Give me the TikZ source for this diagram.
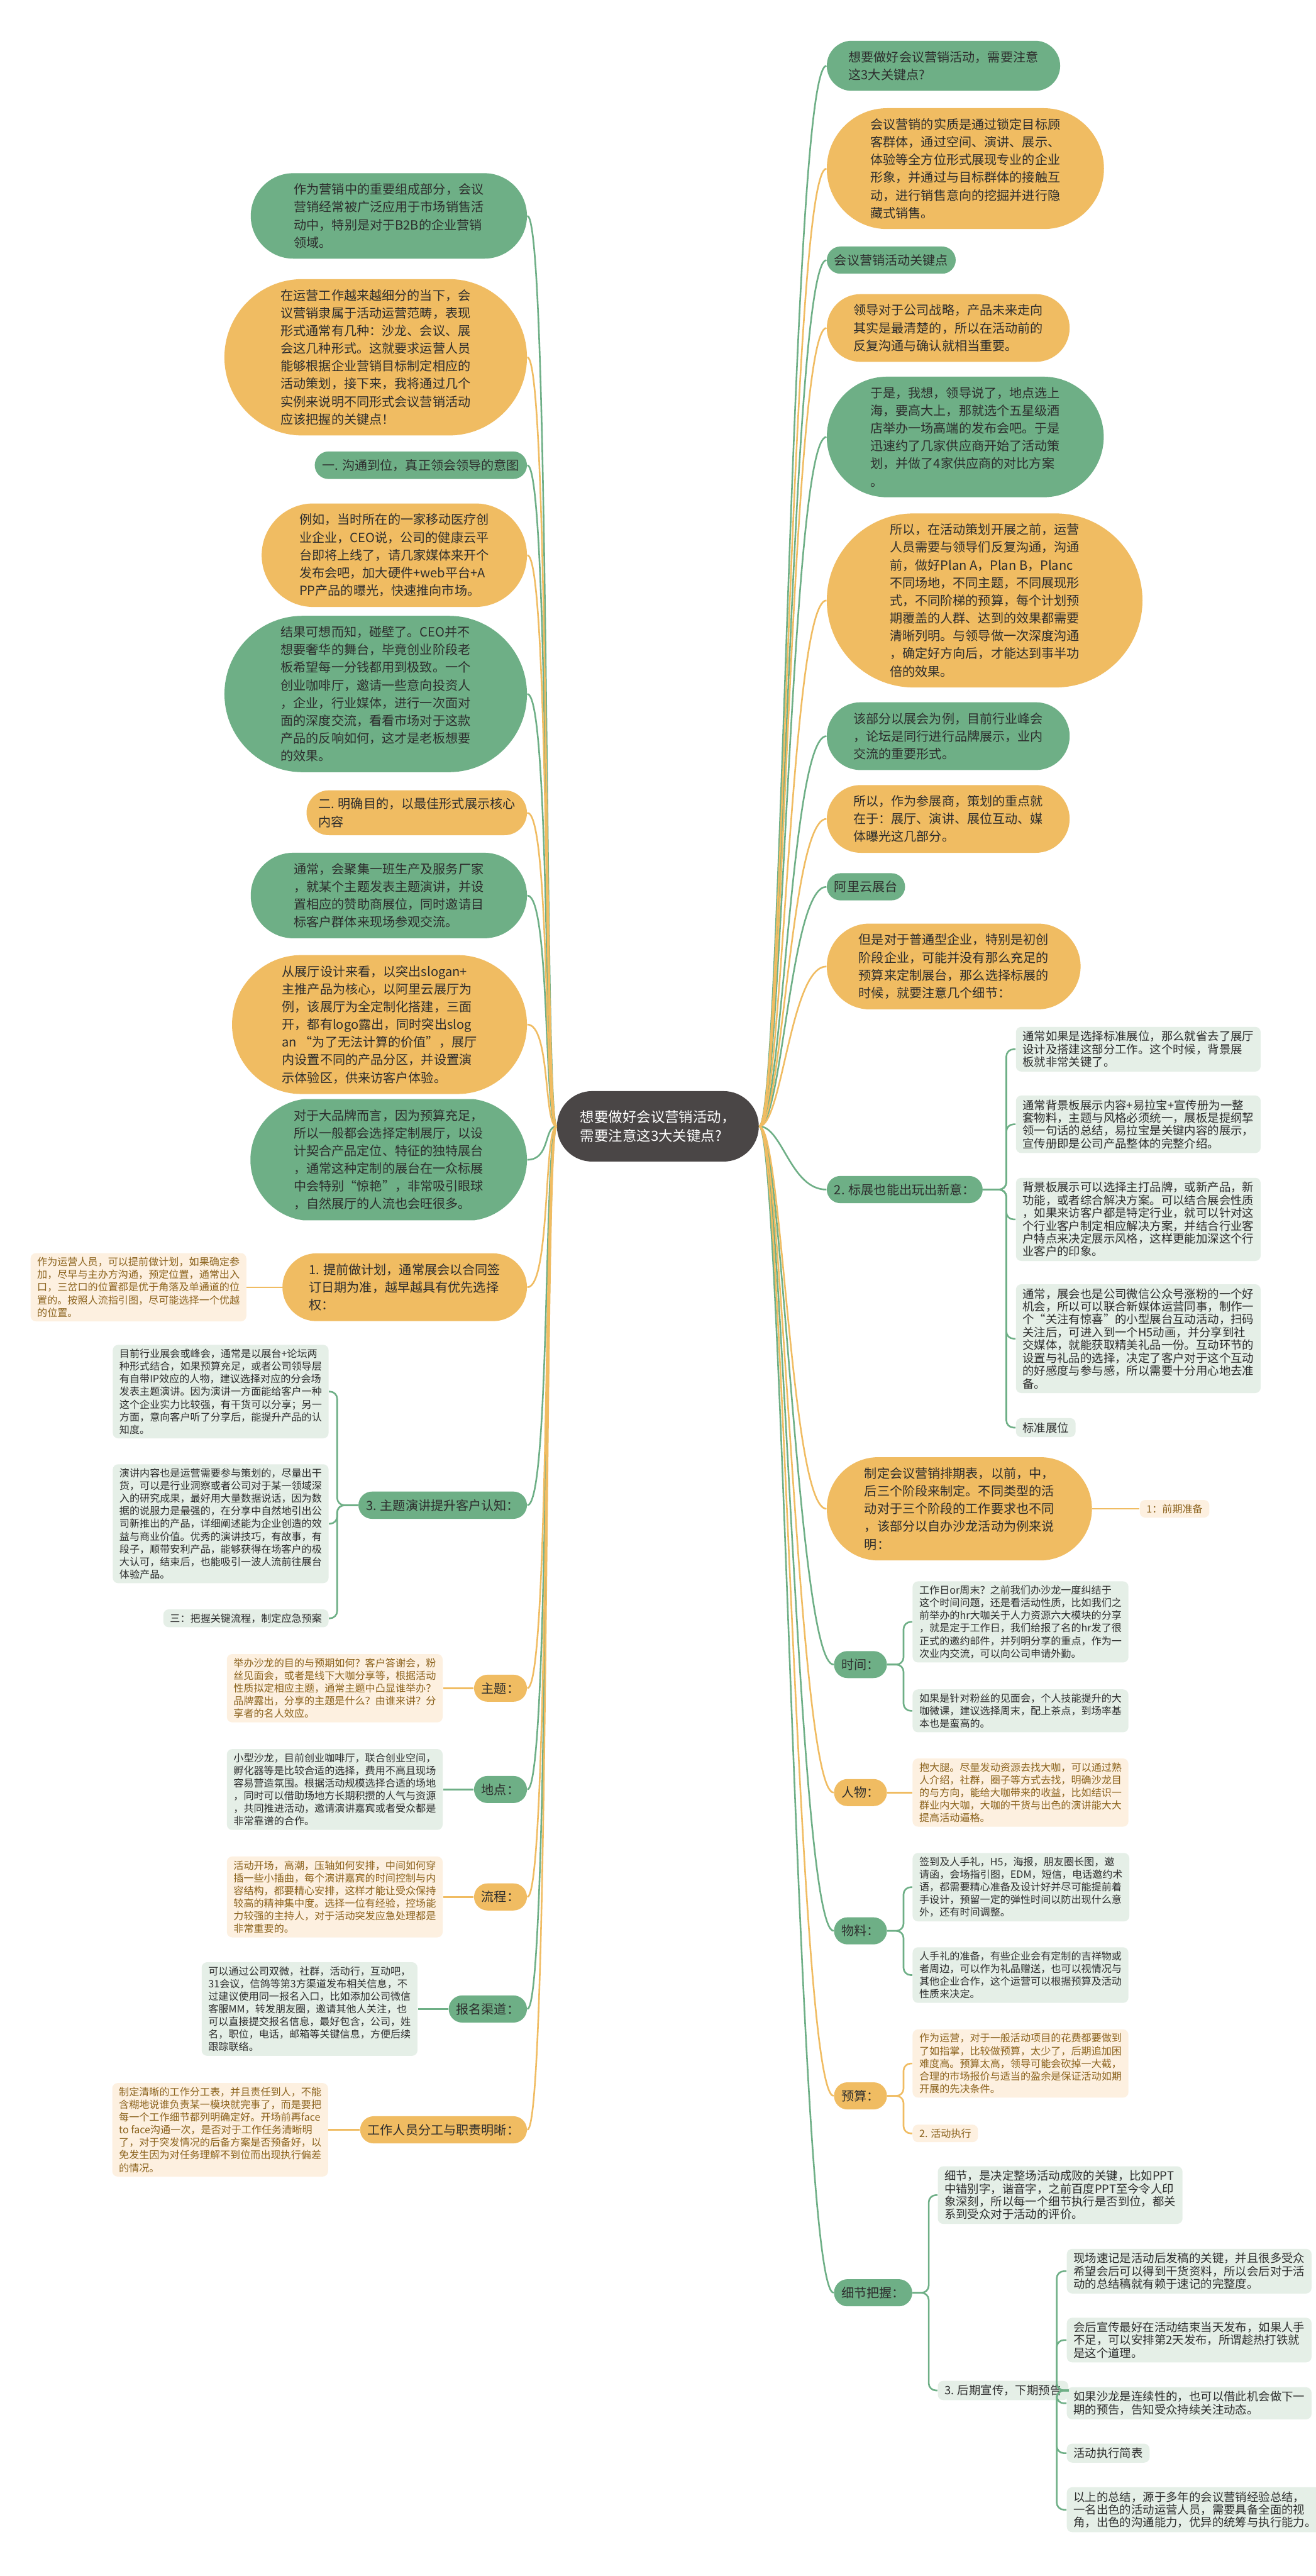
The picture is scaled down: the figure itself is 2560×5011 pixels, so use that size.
\documentclass[tikz,border=0pt]{standalone}
\usepackage{fontspec}
\newfontfamily\cjk{Noto Sans CJK SC}
\usepackage{tikz}
\usetikzlibrary{shapes.misc}
\definecolor{mmgreen}{RGB}{110,175,134}
\definecolor{mmorange}{RGB}{240,188,98}
\definecolor{mmdark}{RGB}{74,70,70}
\definecolor{palegreen}{RGB}{229,239,231}
\definecolor{paleorange}{RGB}{253,240,224}
\definecolor{ink}{RGB}{45,45,45}
\definecolor{brownink}{RGB}{139,98,28}
\newcommand\mmmain{\cjk\fontsize{7}{9.8}\selectfont}
\newcommand\mmsmall{\cjk\fontsize{5.6}{7}\selectfont}
\newcommand\mmwide{\cjk\fontsize{6.4}{7.1}\selectfont}
\newcommand\mmctr{\cjk\fontsize{7.8}{10.5}\selectfont}

\begin{document}
\begin{tikzpicture}[x=0.01cm,y=-0.01cm,
  bub/.style={rounded rectangle,inner xsep=0.12cm,inner ysep=0.15cm,align=left,
              font=\mmmain,text=ink},
  gb/.style={bub,fill=mmgreen},
  ob/.style={bub,fill=mmorange},
  multi/.style={inner xsep=0.33cm,inner ysep=0.2cm},
  roomy/.style={inner xsep=0.55cm},
  flat/.style={rounded rectangle arc length=165},
  ctr/.style={rounded rectangle,fill=mmdark,text=white,font=\mmctr,align=left,
              inner xsep=0.38cm,minimum height=1.37cm},
  box/.style={rectangle,rounded corners=3pt,inner xsep=0.13cm,inner ysep=0.08cm,
              align=left},
  gs/.style={box,fill=palegreen,text=ink,font=\mmsmall},
  os/.style={box,fill=paleorange,text=brownink,font=\mmsmall},
  gw/.style={gs,font=\mmwide},
  gl/.style={draw=mmgreen,line width=0.9pt},
  ol/.style={draw=mmorange,line width=0.9pt}]

\fill[white] (0,0) rectangle (2560,5011);
\useasboundingbox (0,0) rectangle (2560,5011);

% centre
\node[ctr] (c) at (1280,2191) {想要做好会议营销活动，\\需要注意这3大关键点?};

% left side
\node[gb,multi,roomy,anchor=east] (L1) at (1026,420) {作为营销中的重要组成部分，会议\\营销经常被广泛应用于市场销售活\\动中，特别是对于B2B的企业营销\\领域。};
\node[ob,multi,anchor=east] (L2) at (1026,695) {在运营工作越来越细分的当下，会\\议营销隶属于活动运营范畴，表现\\形式通常有几种：沙龙、会议、展\\会这几种形式。这就要求运营人员\\能够根据企业营销目标制定相应的\\活动策划，接下来，我将通过几个\\实例来说明不同形式会议营销活动\\应该把握的关键点！};
\node[gb,anchor=east] (L3) at (1026,905) {一. 沟通到位，真正领会领导的意图};
\node[ob,multi,anchor=east] (L4) at (1026,1080) {例如，当时所在的一家移动医疗创\\业企业，CEO说，公司的健康云平\\台即将上线了，请几家媒体来开个\\发布会吧，加大硬件+web平台+A\\PP产品的曝光，快速推向市场。};
\node[gb,multi,anchor=east] (L5) at (1026,1350) {结果可想而知，碰壁了。CEO并不\\想要奢华的舞台，毕竟创业阶段老\\板希望每一分钱都用到极致。一个\\创业咖啡厅，邀请一些意向投资人\\，企业，行业媒体，进行一次面对\\面的深度交流，看看市场对于这款\\产品的反响如何，这才是老板想要\\的效果。};
\node[ob,anchor=east] (L6) at (1026,1581) {二. 明确目的，以最佳形式展示核心\\内容};
\node[gb,multi,roomy,anchor=east] (L7) at (1026,1742) {通常，会聚集一班生产及服务厂家\\，就某个主题发表主题演讲，并设\\置相应的赞助商展位，同时邀请目\\标客户群体来现场参观交流。};
\node[ob,multi,anchor=east] (L8) at (1026,1993) {从展厅设计来看，以突出slogan+\\主推产品为核心，以阿里云展厅为\\例，该展厅为全定制化搭建，三面\\开，都有logo露出，同时突出slog\\an “为了无法计算的价值”，展厅\\内设置不同的产品分区，并设置演\\示体验区，供来访客户体验。};
\node[gb,multi,flat,anchor=east] (L9) at (1026,2256) {对于大品牌而言，因为预算充足，\\所以一般都会选择定制展厅，以设\\计契合产品定位、特征的独特展台\\，通常这种定制的展台在一众标展\\中会特别“惊艳”，非常吸引眼球\\，自然展厅的人流也会旺很多。};
\node[ob,multi,anchor=east] (L10) at (1026,2504) {1. 提前做计划，通常展会以合同签\\订日期为准，越早越具有优先选择\\权：};
\node[gb,anchor=east] (L11) at (1026,2928) {3. 主题演讲提升客户认知：};
\node[ob,anchor=east] (L12) at (1026,3284) {主题：};
\node[gb,anchor=east] (L13) at (1026,3481) {地点：};
\node[ob,anchor=east] (L14) at (1026,3690) {流程：};
\node[gb,anchor=east] (L15) at (1026,3908) {报名渠道：};
\node[ob,anchor=east] (L16) at (1026,4143) {工作人员分工与职责明晰：};

\node[os,anchor=east] (L10a) at (480,2504) {作为运营人员，可以提前做计划，如果确定参\\加，尽早与主办方沟通，预定位置，通常出入\\口，三岔口的位置都是优于角落及单通道的位\\置的。按照人流指引图，尽可能选择一个优越\\的位置。};
\node[gs,anchor=east] (L11a) at (640,2707) {目前行业展会或峰会，通常是以展台+论坛两\\种形式结合，如果预算充足，或者公司领导层\\有自带IP效应的人物，建议选择对应的分会场\\发表主题演讲。因为演讲一方面能给客户一种\\这个企业实力比较强，有干货可以分享；另一\\方面，意向客户听了分享后，能提升产品的认\\知度。};
\node[gs,anchor=east] (L11b) at (640,2964) {演讲内容也是运营需要参与策划的，尽量出干\\货，可以是行业洞察或者公司对于某一领域深\\入的研究成果，最好用大量数据说话，因为数\\据的说服力是最强的，在分享中自然地引出公\\司新推出的产品，详细阐述能为企业创造的效\\益与商业价值。优秀的演讲技巧，有故事，有\\段子，顺带安利产品，能够获得在场客户的极\\大认可，结束后，也能吸引一波人流前往展台\\体验产品。};
\node[gs,anchor=east] (L11c) at (640,3148) {三：把握关键流程，制定应急预案};
\node[os,anchor=east] (L12a) at (862,3284) {举办沙龙的目的与预期如何？客户答谢会，粉\\丝见面会，或者是线下大咖分享等，根据活动\\性质拟定相应主题，通常主题中凸显谁举办？\\品牌露出，分享的主题是什么？由谁来讲？分\\享者的名人效应。};
\node[gs,anchor=east] (L13a) at (862,3481) {小型沙龙，目前创业咖啡厅，联合创业空间，\\孵化器等是比较合适的选择，费用不高且现场\\容易营造氛围。根据活动规模选择合适的场地\\，同时可以借助场地方长期积攒的人气与资源\\，共同推进活动，邀请演讲嘉宾或者受众都是\\非常靠谱的合作。};
\node[os,anchor=east] (L14a) at (862,3690) {活动开场，高潮，压轴如何安排，中间如何穿\\插一些小插曲，每个演讲嘉宾的时间控制与内\\容结构，都要精心安排，这样才能让受众保持\\较高的精神集中度。选择一位有经验，控场能\\力较强的主持人，对于活动突发应急处理都是\\非常重要的。};
\node[gs,anchor=east] (L15a) at (813,3908) {可以通过公司双微，社群，活动行，互动吧，\\31会议，信鸽等第3方渠道发布相关信息，不\\过建议使用同一报名入口，比如添加公司微信\\客服MM，转发朋友圈，邀请其他人关注，也\\可以直接提交报名信息，最好包含，公司，姓\\名，职位，电话，邮箱等关键信息，方便后续\\跟踪联络。};
\node[os,anchor=east] (L16a) at (639,4143) {制定清晰的工作分工表，并且责任到人，不能\\含糊地说谁负责某一模块就完事了，而是要把\\每一个工作细节都列明确定好。开场前再face\\to face沟通一次，是否对于工作任务清晰明\\了，对于突发情况的后备方案是否预备好，以\\免发生因为对任务理解不到位而出现执行偏差\\的情况。};

% right side
\node[gb,multi,anchor=west] (R1) at (1608,128) {想要做好会议营销活动，需要注意\\这3大关键点?};
\node[ob,multi,anchor=west] (R2) at (1608,328) {会议营销的实质是通过锁定目标顾\\客群体，通过空间、演讲、展示、\\体验等全方位形式展现专业的企业\\形象，并通过与目标群体的接触互\\动，进行销售意向的挖掘并进行隐\\藏式销售。};
\node[gb,anchor=west] (R3) at (1608,506) {会议营销活动关键点};
\node[ob,multi,anchor=west] (R4) at (1608,638) {领导对于公司战略，产品未来走向\\其实是最清楚的，所以在活动前的\\反复沟通与确认就相当重要。};
\node[gb,multi,anchor=west] (R5) at (1608,850) {于是，我想，领导说了，地点选上\\海，要高大上，那就选个五星级酒\\店举办一场高端的发布会吧。于是\\迅速约了几家供应商开始了活动策\\划，并做了4家供应商的对比方案\\。};
\node[ob,multi,anchor=west] (R6) at (1608,1168) {所以，在活动策划开展之前，运营\\人员需要与领导们反复沟通，沟通\\前，做好Plan A，Plan B，Planc\\不同场地，不同主题，不同展现形\\式，不同阶梯的预算，每个计划预\\期覆盖的人群、达到的效果都需要\\清晰列明。与领导做一次深度沟通\\，确定好方向后，才能达到事半功\\倍的效果。};
\node[gb,multi,anchor=west] (R7) at (1608,1432) {该部分以展会为例，目前行业峰会\\，论坛是同行进行品牌展示，业内\\交流的重要形式。};
\node[ob,multi,anchor=west] (R8) at (1608,1593) {所以，作为参展商，策划的重点就\\在于：展厅、演讲、展位互动、媒\\体曝光这几部分。};
\node[gb,anchor=west] (R9) at (1608,1725) {阿里云展台};
\node[ob,multi,anchor=west] (R10) at (1608,1880) {但是对于普通型企业，特别是初创\\阶段企业，可能并没有那么充足的\\预算来定制展台，那么选择标展的\\时候，就要注意几个细节：};
\node[gb,anchor=west] (R11) at (1608,2314) {2. 标展也能出玩出新意：};
\node[ob,multi,anchor=west] (R12) at (1608,2935) {制定会议营销排期表，以前，中，\\后三个阶段来制定。不同类型的活\\动对于三个阶段的工作要求也不同\\，该部分以自办沙龙活动为例来说\\明：};
\node[gb,anchor=west] (R13) at (1622,3238) {时间：};
\node[ob,anchor=west] (R14) at (1622,3487) {人物：};
\node[gb,anchor=west] (R15) at (1622,3756) {物料：};
\node[ob,anchor=west] (R16) at (1622,4077) {预算：};
\node[gb,anchor=west] (R17) at (1622,4460) {细节把握：};

\node[gw,anchor=west] (R11a) at (1976,2041) {通常如果是选择标准展位，那么就省去了展厅\\设计及搭建这部分工作。这个时候，背景展\\板就非常关键了。};
\node[gw,anchor=west] (R11b) at (1976,2187) {通常背景板展示内容+易拉宝+宣传册为一整\\套物料，主题与风格必须统一，展板是提纲挈\\领一句话的总结，易拉宝是关键内容的展示，\\宣传册即是公司产品整体的完整介绍。};
\node[gw,anchor=west] (R11c) at (1976,2372) {背景板展示可以选择主打品牌，或新产品，新\\功能，或者综合解决方案。可以结合展会性质\\，如果来访客户都是特定行业，就可以针对这\\个行业客户制定相应解决方案，并结合行业客\\户特点来决定展示风格，这样更能加深这个行\\业客户的印象。};
\node[gw,anchor=west] (R11d) at (1976,2604) {通常，展会也是公司微信公众号涨粉的一个好\\机会，所以可以联合新媒体运营同事，制作一\\个“关注有惊喜”的小型展台互动活动，扫码\\关注后，可进入到一个H5动画，并分享到社\\交媒体，就能获取精美礼品一份。互动环节的\\设置与礼品的选择，决定了客户对于这个互动\\的好感度与参与感，所以需要十分用心地去准\\备。};
\node[gw,anchor=west] (R11e) at (1976,2777) {标准展位};
\node[os,anchor=west] (R12a) at (2217,2935) {1：前期准备};
\node[gs,anchor=west] (R13a) at (1775,3155) {工作日or周末？之前我们办沙龙一度纠结于\\这个时间问题，还是看活动性质，比如我们之\\前举办的hr大咖关于人力资源六大模块的分享\\，就是定于工作日，我们给报了名的hr发了很\\正式的邀约邮件，并列明分享的重点，作为一\\次业内交流，可以向公司申请外勤。};
\node[gs,anchor=west] (R13b) at (1775,3328) {如果是针对粉丝的见面会，个人技能提升的大\\咖微课，建议选择周末，配上茶点，到场率基\\本也是蛮高的。};
\node[os,anchor=west] (R14a) at (1775,3487) {抱大腿。尽量发动资源去找大咖，可以通过熟\\人介绍，社群，圈子等方式去找，明确沙龙目\\的与方向，能给大咖带来的收益，比如结识一\\群业内大咖，大咖的干货与出色的演讲能大大\\提高活动逼格。};
\node[gs,anchor=west] (R15a) at (1775,3671) {签到及人手礼，H5，海报，朋友圈长图，邀\\请函，会场指引图，EDM，短信，电话邀约术\\语，都需要精心准备及设计好并尽可能提前着\\手设计，预留一定的弹性时间以防出现什么意\\外，还有时间调整。};
\node[gs,anchor=west] (R15b) at (1775,3842) {人手礼的准备，有些企业会有定制的吉祥物或\\者周边，可以作为礼品赠送，也可以视情况与\\其他企业合作，这个运营可以根据预算及活动\\性质来决定。};
\node[os,anchor=west] (R16a) at (1775,4014) {作为运营，对于一般活动项目的花费都要做到\\了如指掌，比较做预算，太少了，后期追加困\\难度高。预算太高，领导可能会砍掉一大截，\\合理的市场报价与适当的盈余是保证活动如期\\开展的先决条件。};
\node[os,anchor=west] (R16b) at (1775,4150) {2. 活动执行};
\node[gw,anchor=west] (R17a) at (1824,4270) {细节，是决定整场活动成败的关键，比如PPT\\中错别字，谐音字，之前百度PPT至今令人印\\象深刻，所以每一个细节执行是否到位，都关\\系到受众对于活动的评价。};
\node[gw,anchor=west] (R17b) at (1824,4650) {3. 后期宣传，下期预告};
\node[gw,anchor=west] (P1) at (2075,4418) {现场速记是活动后发稿的关键，并且很多受众\\希望会后可以得到干货资料，所以会后对于活\\动的总结稿就有赖于速记的完整度。};
\node[gw,anchor=west] (P2) at (2075,4552) {会后宣传最好在活动结束当天发布，如果人手\\不足，可以安排第2天发布，所谓趁热打铁就\\是这个道理。};
\node[gw,anchor=west] (P3) at (2075,4675) {如果沙龙是连续性的，也可以借此机会做下一\\期的预告，告知受众持续关注动态。};
\node[gw,anchor=west] (P4) at (2075,4772) {活动执行简表};
\node[gw,anchor=west] (P5) at (2075,4882) {以上的总结，源于多年的会议营销经验总结，\\一名出色的活动运营人员，需要具备全面的视\\角，出色的沟通能力，优异的统筹与执行能力。};

% main branches
\foreach \n in {1,3,...,15}
  \draw[gl] (c.west) .. controls +(-25,0) and +(45,0) .. (L\n.east);
\foreach \n in {2,4,...,16}
  \draw[ol] (c.west) .. controls +(-25,0) and +(45,0) .. (L\n.east);
\foreach \n in {1,3,...,17}
  \draw[gl] (c.east) .. controls +(45,0) and +(-70,0) .. (R\n.west);
\foreach \n in {2,4,...,16}
  \draw[ol] (c.east) .. controls +(45,0) and +(-70,0) .. (R\n.west);

% sub branches
\coordinate (sL11) at (656,0);
\coordinate (sR11) at (1958,0);
\coordinate (sR13) at (1758,0);
\coordinate (sR17) at (1807,0);
\coordinate (sR17b) at (2056,0);
\foreach \k in {a,b,c}
  \draw[gl,rounded corners=4pt] (L11.west) -- (L11.west -| sL11) |- (L11\k.east);
\foreach \k in {a,b,c,d,e}
  \draw[gl,rounded corners=4pt] (R11.east) -- (R11.east -| sR11) |- (R11\k.west);
\foreach \k in {a,b}
  \draw[gl,rounded corners=4pt] (R13.east) -- (R13.east -| sR13) |- (R13\k.west);
\foreach \k in {a,b}
  \draw[gl,rounded corners=4pt] (R15.east) -- (R15.east -| sR13) |- (R15\k.west);
\foreach \k in {a,b}
  \draw[ol,rounded corners=4pt] (R16.east) -- (R16.east -| sR13) |- (R16\k.west);
\foreach \k in {a,b}
  \draw[gl,rounded corners=4pt] (R17.east) -- (R17.east -| sR17) |- (R17\k.west);
\foreach \k in {1,...,5}
  \draw[gl,rounded corners=4pt] (R17b.east) -- (R17b.east -| sR17b) |- (P\k.west);
\draw[ol] (L10.west) -- (L10a.east);
\draw[ol] (L12.west) -- (L12a.east);
\draw[gl] (L13.west) -- (L13a.east);
\draw[ol] (L14.west) -- (L14a.east);
\draw[gl] (L15.west) -- (L15a.east);
\draw[ol] (L16.west) -- (L16a.east);
\draw[ol] (R12.east) -- (R12a.west);
\draw[ol] (R14.east) -- (R14a.west);
\end{tikzpicture}
\end{document}
